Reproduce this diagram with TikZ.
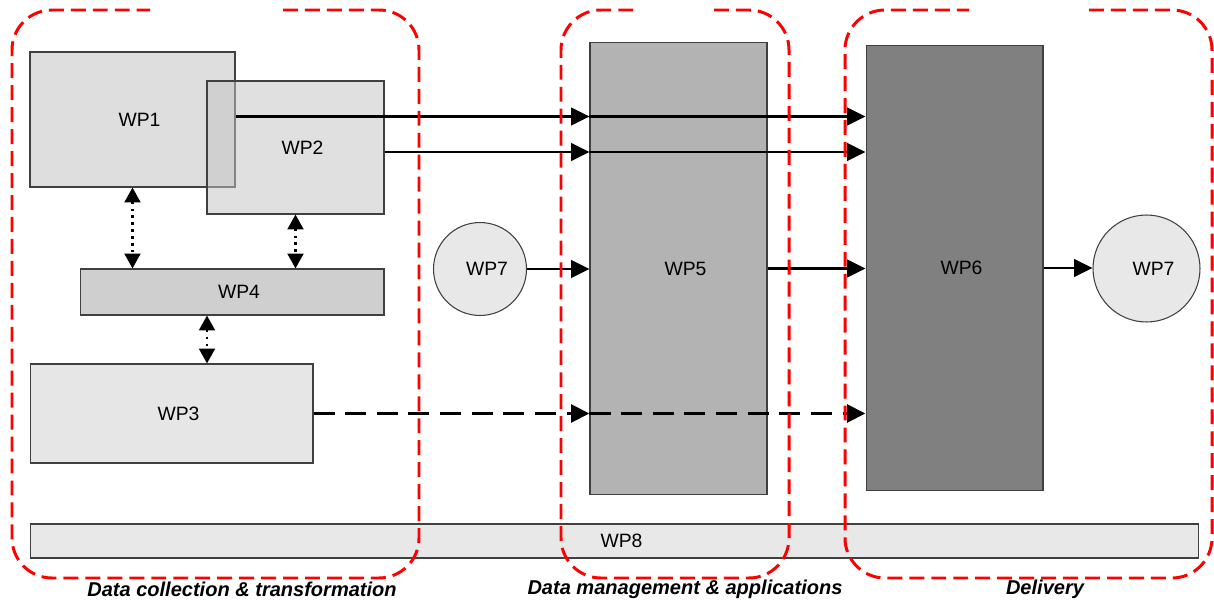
\documentclass[tikz,border=0pt]{standalone}
\usepackage{fontspec}
\setmainfont{Liberation Sans}
\usetikzlibrary{arrows.meta,calc}
\definecolor{boxline}{HTML}{404040}
\definecolor{fillA}{HTML}{DEDEDE}
\definecolor{fillB}{HTML}{C3C3C3}
\definecolor{fillC}{HTML}{CFCFCF}
\definecolor{fillD}{HTML}{E6E6E6}
\definecolor{fillE}{HTML}{B3B3B3}
\definecolor{fillF}{HTML}{808080}
\definecolor{fillG}{HTML}{E8E8E8}
\begin{document}
\begin{tikzpicture}[x=0.02cm,y=-0.02cm,
  box/.style={draw=boxline, line width=0.6pt, inner sep=0pt,
    font=\fontsize{11pt}{13pt}\selectfont, execute at begin node=\hspace*{8pt}},
  rbox/.style={box, rectangle},
  cbox/.style={box, circle},
  arr/.style={line width=1.4pt, -{Triangle[length=10.5pt,width=10pt]}},
  dasharr/.style={line width=2.2pt, dash pattern=on 12pt off 6pt, -{Triangle[length=10.5pt,width=10pt]}},
  dotarr/.style={line width=1.5pt, dash pattern=on 1.5pt off 2.4pt,
    {Triangle[length=8.5pt,width=9pt]}-{Triangle[length=8.5pt,width=9pt]}},
  region/.style={draw=red, line width=1.7pt, dash pattern=on 8.5pt off 4pt, rounded corners=0.8cm},
  grouplabel/.style={font=\fontsize{11.4pt}{13pt}\selectfont\bfseries\itshape, inner sep=0pt}
]
\useasboundingbox[fill=white] (0,0) rectangle (1214,601);

% boxes
\node[rbox, fill=fillA, minimum width=4.1cm, minimum height=2.7cm] (wp1) at (132.5,119.5) {WP1};
\node[rbox, fill=fillB, fill opacity=0.515, text opacity=1, minimum width=3.54cm, minimum height=2.66cm] (wp2) at (295.5,147.5) {WP2};
\node[rbox, fill=fillC, minimum width=6.08cm, minimum height=0.92cm] (wp4) at (232,292) {WP4};
\node[rbox, fill=fillD, minimum width=5.66cm, minimum height=1.98cm] (wp3) at (171.5,413.5) {WP3};
\node[rbox, fill=fillE, minimum width=3.54cm, minimum height=9.06cm] (wp5) at (678.5,268.5) {WP5};
\node[rbox, fill=fillF, minimum width=3.54cm, minimum height=8.92cm] (wp6) at (954.5,268) {WP6};
\node[cbox, fill=fillG, minimum size=1.86cm] (wp7a) at (480,269) {WP7};
\node[cbox, fill=fillG, minimum size=2.14cm] (wp7b) at (1146.5,268.5) {WP7};
\node[rbox, fill=fillG, minimum width=23.38cm, minimum height=0.68cm] (wp8) at (614.5,541) {WP8};

% connector anchors
\coordinate (a1) at ([yshift=0.06cm]wp1.east);
\coordinate (a2) at ([yshift=-0.09cm]wp2.east);
\coordinate (d3) at ([xshift=-0.5cm]wp4.south);

% solid arrows
\draw[arr] (a1) -- (a1 -| wp5.west);
\draw[arr] (a1 -| wp5.west) -- (a1 -| wp6.west);
\draw[arr] (a2) -- (a2 -| wp5.west);
\draw[arr] (a2 -| wp5.west) -- (a2 -| wp6.west);
\draw[arr] (wp7a.east) -- (wp7a.east -| wp5.west);
\draw[arr] (wp5.east) -- (wp5.east -| wp6.west);
\draw[arr] (wp6.east) -- (wp6.east -| wp7b.west);

% dashed arrows
\draw[dasharr] (wp3.east) -- (wp3.east -| wp5.west);
\draw[dasharr] (wp3.east -| wp5.west) -- (wp3.east -| wp6.west);

% dotted double arrows
\draw[dotarr] (wp1.south) -- (wp1.south |- wp4.north);
\draw[dotarr] (wp2.south) -- (wp2.south |- wp4.north);
\draw[dotarr] (d3) -- (d3 |- wp3.north);

% red regions
\draw[region] (283,10) -- (419,10) -- (419,578) -- (12,578) -- (12,10) -- (150,10);
\draw[region] (714,10) -- (789,10) -- (789,578) -- (561,578) -- (561,10) -- (639,10);
\draw[region] (1089,10) -- (1212,10) -- (1212,578) -- (845,578) -- (845,10) -- (969,10);

% region labels
\node[grouplabel] (l1) at (242,589) {Data collection \& transformation};
\node[grouplabel] (l2) at (685,589) {Data management \& applications};
\node[grouplabel] (l3) at (1045,589) {Delivery};
\end{tikzpicture}
\end{document}
